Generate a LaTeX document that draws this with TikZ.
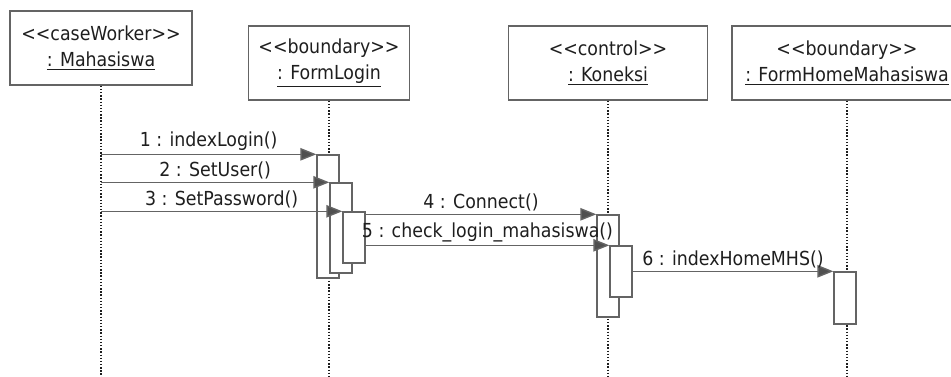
\documentclass[tikz,border=0pt]{standalone}
\usepackage{fontspec}
\setmainfont{DejaVu Sans Condensed}
\usetikzlibrary{arrows.meta,positioning,calc}
\definecolor{linegray}{RGB}{100,100,100}
\definecolor{tipgray}{RGB}{80,80,80}
\definecolor{textgray}{RGB}{30,30,30}

\begin{document}
\begin{tikzpicture}[x=0.02cm, y=-0.02cm,
  every node/.style={font=\fontsize{11}{15}\selectfont, text=textgray},
  head/.style={draw=linegray, thick, align=center, minimum height=1.48cm, inner sep=0pt},
  act/.style={draw=linegray, thick, fill=white, minimum width=0.44cm, inner sep=0pt},
  life/.style={densely dotted, thick, textgray},
  msg/.style={thick, linegray, -{Triangle[length=9pt,width=7pt,fill=tipgray]}},
  lbl/.style={midway, above, inner sep=1.5pt}]
  \clip (0,0) rectangle (951,376);
  \coordinate (bot) at (0,380);

  % objects
  \node[head, minimum width=3.64cm] (mhs) at (101,48) {<{}<caseWorker>{}>\\\underline{: Mahasiswa}};
  \node[head, minimum width=3.22cm] (login) at (329,63) {<{}<boundary>{}>\\\underline{: FormLogin}};
  \node[head, minimum width=3.98cm] (kon) at (608,63) {<{}<control>{}>\\\underline{: Koneksi}};
  \node[head, minimum width=4.6cm] (home) at (847,63) {<{}<boundary>{}>\\\underline{: FormHomeMahasiswa}};

  % lifelines
  \foreach \o in {mhs,login,kon,home}
    \draw[life] (\o.south) -- (\o.south |- bot);

  % activations
  \node[act, minimum height=2.46cm] (a1) at (328,216.5) {};
  \node[act, minimum height=1.8cm] (a2) at (341,228) {};
  \node[act, minimum height=1.02cm] (a3) at (354,237.5) {};
  \node[act, minimum height=2.04cm] (b1) at (608,266) {};
  \node[act, minimum height=1.02cm] (b2) at (621,271.5) {};
  \node[act, minimum height=1.04cm] (c1) at (845,298) {};

  % messages
  \draw[msg] (mhs.south |- a1.north) -- node[lbl] {1 : indexLogin()} (a1.north west);
  \draw[msg] (mhs.south |- a2.north) -- node[lbl] {2 : SetUser()} (a2.north west);
  \draw[msg] (mhs.south |- a3.north) -- node[lbl] {3 : SetPassword()} (a3.north west);
  \draw[msg] (a3.east |- b1.north) -- node[lbl] {4 : Connect()} (b1.north west);
  \draw[msg] (a3.east |- b2.north) -- node[lbl] {5 : check\_login\_mahasiswa()} (b2.north west);
  \draw[msg] (b2.east |- c1.north) -- node[lbl] {6 : indexHomeMHS()} (c1.north west);
\end{tikzpicture}
\end{document}
